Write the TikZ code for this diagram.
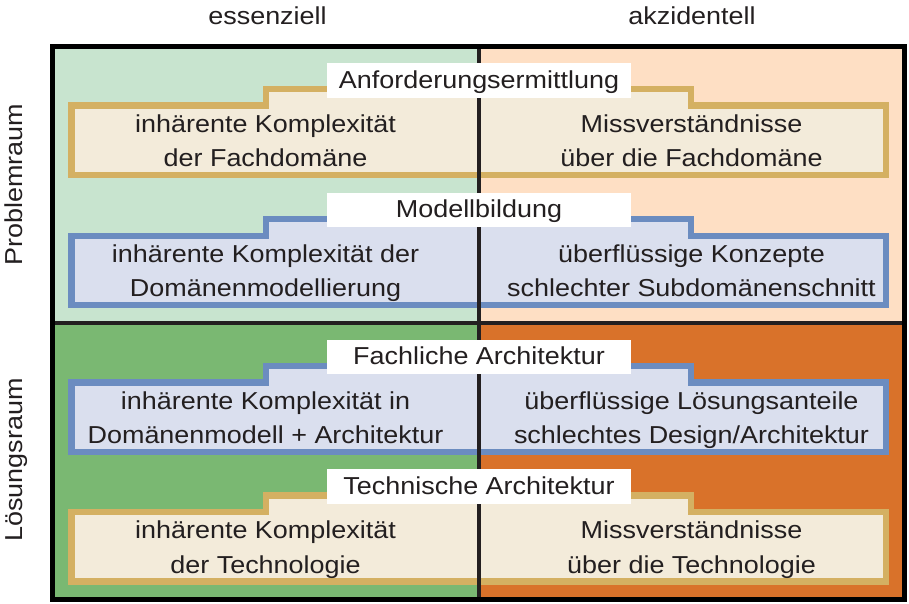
\documentclass[tikz,border=0pt]{standalone}
\usepackage{fontspec}
\setmainfont{Liberation Sans}[FakeStretch=1.10]
\definecolor{essgreenlight}{HTML}{C8E4CF}
\definecolor{akzpeach}{HTML}{FEDFC4}
\definecolor{essgreen}{HTML}{7AB872}
\definecolor{akzorange}{HTML}{D9722A}
\definecolor{bandgold}{HTML}{D4B062}
\definecolor{bandcream}{HTML}{F3EBDA}
\definecolor{bandblue}{HTML}{6B8CC0}
\definecolor{bandlight}{HTML}{DADFEE}
\definecolor{inkgray}{HTML}{231F20}

\begin{document}
\begin{tikzpicture}[
    x=1pt, y=-1pt,
    celltext/.style={anchor=base, inner sep=0pt, font=\fontsize{24.5}{30}\selectfont, text=inkgray},
    sidetext/.style={celltext, rotate=90},
    tablabel/.style={fill=white, inner sep=0pt, minimum width=304pt, minimum height=34.5pt,
        text height=18pt, text depth=3pt, font=\fontsize{24.5}{30}\selectfont, text=inkgray},
    goldband/.style={draw=bandgold, fill=bandcream, line width=6.5pt},
    blueband/.style={draw=bandblue, fill=bandlight, line width=6.5pt},
    divider/.style={line width=4pt, inkgray}
]
\useasboundingbox (0,0) rectangle (909,603);

% Quadrants
\fill[essgreenlight] (52.5,46.5) rectangle (479,322.5);
\fill[akzpeach] (479,46.5) rectangle (904,322.5);
\fill[essgreen] (52.5,322.5) rectangle (479,599);
\fill[akzorange] (479,322.5) rectangle (904,599);

% Headers
\node[celltext] (ess) at (267.5,24) {essenziell};
\node[celltext] (akz) at (692,24) {akzidentell};
\node[sidetext] (prob) at (22.3,185) {Problemraum};
\node[sidetext] (loes) at (22.3,460) {Lösungsraum};

% Bands with tabs
\filldraw[goldband] (71.7,175) -- (71.7,105.7) -- (266,105.7) -- (266,89) -- (691,89)
    -- (691,105.7) -- (886,105.7) -- (886,175) -- cycle;
\filldraw[blueband] (71.7,305) -- (71.7,235.8) -- (266,235.8) -- (266,219.2) -- (691,219.2)
    -- (691,235.8) -- (886,235.8) -- (886,305) -- cycle;
\filldraw[blueband] (71.7,452) -- (71.7,382.5) -- (266,382.5) -- (266,365.8) -- (691,365.8)
    -- (691,382.5) -- (886,382.5) -- (886,452) -- cycle;
\filldraw[goldband] (71.7,581.3) -- (71.7,512) -- (266,512) -- (266,495.3) -- (691,495.3)
    -- (691,512) -- (886,512) -- (886,581.3) -- cycle;

% Dividers
\draw[divider] (479,46.5) -- (479,599);
\draw[divider] (52.5,322.5) -- (904,322.5);

% Tab labels
\node[tablabel] (anf) at (479,80.5) {Anforderungsermittlung};
\node[tablabel] (mod) at (479,210) {Modellbildung};
\node[tablabel] (fach) at (479,357) {Fachliche Architektur};
\node[tablabel] (tech) at (479,486.5) {Technische Architektur};

% Anforderungsermittlung
\node[celltext] (anfEss1) at (265.5,132.2) {inhärente Komplexität};
\node[celltext] (anfEss2) at (265.5,166.8) {der Fachdomäne};
\node[celltext] (anfAkz1) at (691.5,132.2) {Missverständnisse};
\node[celltext] (anfAkz2) at (691.5,166.8) {über die Fachdomäne};

% Modellbildung
\node[celltext] (modEss1) at (265.5,262.3) {inhärente Komplexität der};
\node[celltext] (modEss2) at (265.5,296.9) {Domänenmodellierung};
\node[celltext] (modAkz1) at (691.5,262.3) {überflüssige Konzepte};
\node[celltext] (modAkz2) at (691.5,296.9) {schlechter Subdomänenschnitt};

% Fachliche Architektur
\node[celltext] (fachEss1) at (265.5,409) {inhärente Komplexität in};
\node[celltext] (fachEss2) at (265.5,443.6) {Domänenmodell + Architektur};
\node[celltext] (fachAkz1) at (691.5,409) {überflüssige Lösungsanteile};
\node[celltext] (fachAkz2) at (691.5,443.6) {schlechtes Design/Architektur};

% Technische Architektur
\node[celltext] (techEss1) at (265.5,538.5) {inhärente Komplexität};
\node[celltext] (techEss2) at (265.5,573.1) {der Technologie};
\node[celltext] (techAkz1) at (691.5,538.5) {Missverständnisse};
\node[celltext] (techAkz2) at (691.5,573.1) {über die Technologie};

% Frame
\draw[line width=5pt, black] (52.5,46.5) rectangle (904,599);

\end{tikzpicture}
\end{document}
